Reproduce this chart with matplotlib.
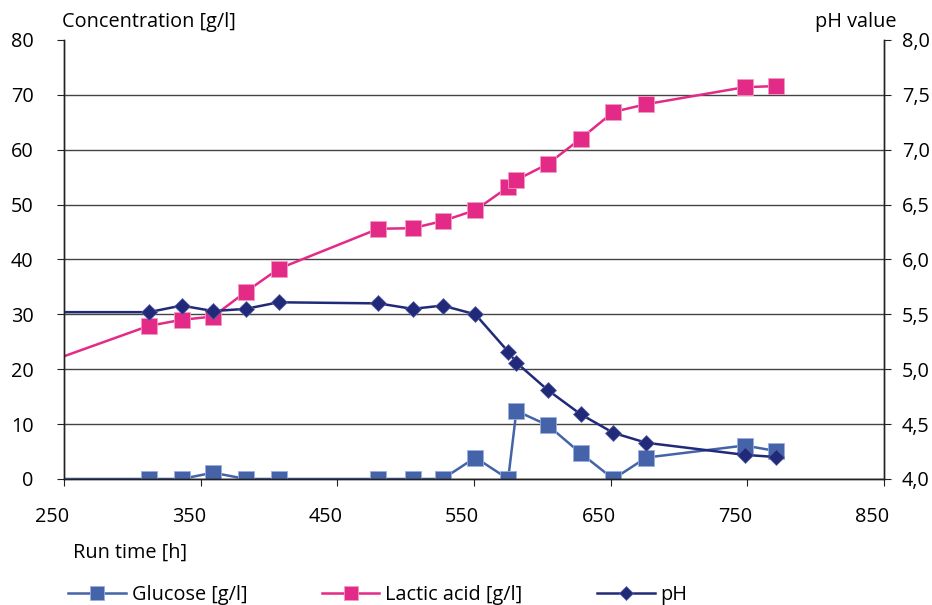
import matplotlib
matplotlib.use("Agg")
import matplotlib.pyplot as plt
import matplotlib.transforms as mtransforms

plt.rcParams['font.family'] = ['Open Sans', 'DejaVu Sans']
plt.rcParams['font.size'] = 14.3

# run time [h]; first point lies left of the visible range (clipped)
run_time = [200, 312, 336, 359, 383, 407, 480, 505, 527, 551, 575, 581, 604, 628, 652, 676, 748, 771]
glucose = [0, 0, 0, 1.15, 0, 0, 0, 0, 0, 3.9, 0, 12.4, 9.8, 4.7, 0, 3.9, 6.1, 5.1]
lactic_acid = [17.9, 27.9, 29.0, 29.6, 34.1, 38.3, 45.6, 45.7, 47.0, 49.0, 53.2, 54.5, 57.4, 62.0, 66.9, 68.3, 71.4, 71.6]
ph = [5.52, 5.52, 5.58, 5.53, 5.55, 5.61, 5.60, 5.55, 5.58, 5.50, 5.16, 5.06, 4.81, 4.59, 4.42, 4.33, 4.22, 4.20]

x_ticks = [250, 350, 450, 550, 650, 750, 850]
conc_ticks = [0, 10, 20, 30, 40, 50, 60, 70, 80]
ph_ticks = [4.0, 4.5, 5.0, 5.5, 6.0, 6.5, 7.0, 7.5, 8.0]
ph_labels = ['4,0', '4,5', '5,0', '5,5', '6,0', '6,5', '7,0', '7,5', '8,0']

c_glu = '#4563a8'
c_lac = '#e42a87'
c_ph = '#212a78'

fig = plt.figure(figsize=(9.32, 6.05), dpi=100)
ax = fig.add_axes([0.0687, 0.2083, 0.8798, 0.7256])
ax2 = ax.twinx()

l1, = ax.plot(run_time, glucose, color=c_glu, lw=1.8, marker='s', ms=11.5,
              mec='#9aaee0', mew=0.6, label='Glucose [g/l]')
l2, = ax.plot(run_time, lactic_acid, color=c_lac, lw=1.8, marker='s', ms=11.5,
              mec='#f39ac4', mew=0.6, label='Lactic acid [g/l]')
l3, = ax2.plot(run_time, ph, color=c_ph, lw=1.8, marker='D', ms=8,
               mec='#5a62a8', mew=0.5, label='pH')

ax.set_xlim(250, 850)
ax.set_ylim(0, 80)
ax2.set_ylim(4.0, 8.0)
ax.set_xticks(x_ticks)
ax.set_yticks(conc_ticks)
ax2.set_yticks(ph_ticks)
ax2.set_yticklabels(ph_labels)

ax.grid(axis='y', color='#444444', lw=1.0)
ax.yaxis.get_gridlines()[-1].set_visible(False)
ax.set_axisbelow(True)

for a in (ax, ax2):
    a.spines['top'].set_visible(False)
    for s in a.spines.values():
        s.set_color('#222222')
        s.set_linewidth(1.0)

ax.tick_params(axis='y', direction='out', length=5, pad=17, color='#222222')
ax2.tick_params(axis='y', direction='out', length=5, pad=8, color='#222222')
ax.tick_params(axis='x', direction='out', length=5, pad=15, color='#222222')

# shift x tick labels a little to the left, like the original
offset = mtransforms.ScaledTranslation(-12 / 100, 0, fig.dpi_scale_trans)
for lab in ax.get_xticklabels():
    lab.set_transform(lab.get_transform() + offset)

fig.text(0.066, 0.955, 'Concentration [g/l]', ha='left', va='baseline')
fig.text(0.962, 0.955, 'pH value', ha='right', va='baseline')
fig.text(0.078, 0.078, 'Run time [h]', ha='left', va='baseline')

fig.legend(handles=[l1, l2, l3], loc='lower left', bbox_to_anchor=(0.054, -0.03),
           ncol=3, frameon=False, handlelength=2.9, columnspacing=3.75,
           handletextpad=0.3, markerscale=0.85)

fig.savefig('out.png', dpi=100)
